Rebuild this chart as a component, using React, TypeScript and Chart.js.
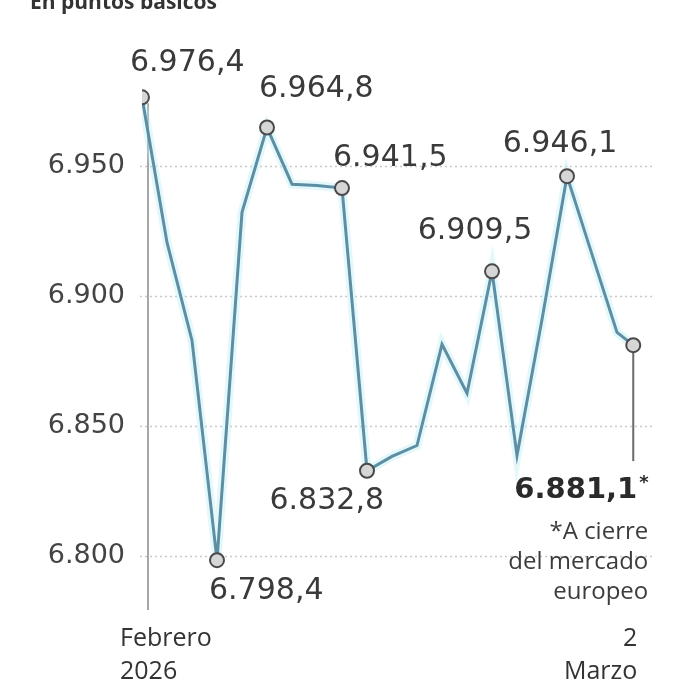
import { useEffect, useRef } from "react";
import { Chart, registerables } from "chart.js";

Chart.register(...registerables);

// ---- data ----
const title = "En puntos básicos";
// trading-session position (last one is a partial session: close of the European market)
const sessions = [0, 1, 2, 3, 4, 5, 6, 7, 8, 9, 10, 11, 12, 13, 14, 15, 16, 17, 18, 19, 19.65];
const values = [
  6976.4, 6920.6, 6882.9, 6798.4, 6932.2, 6964.8, 6943.0, 6942.5, 6941.5, 6832.8,
  6838.3, 6842.5, 6881.4, 6862.6, 6909.5, 6838.7, 6891.0, 6946.1, 6916.0, 6886.0, 6881.1,
];
const labeledIdx = [0, 3, 5, 8, 9, 14, 17, 20];
const yTicks = [6800, 6850, 6900, 6950];
const xStartLabel = ["Febrero", "2026"];
const xEndLabel = ["2", "Marzo"];
const lastNote = "*";
const footnote = ["*A cierre", "del mercado", "europeo"];

// ---- helpers ----
function fmt(v: number, decimals: number): string {
  const fixed = v.toFixed(decimals);
  const [intPart, dec] = fixed.split(".");
  const grouped = intPart.replace(/\B(?=(\d{3})+(?!\d))/g, ".");
  return dec !== undefined ? grouped + "," + dec : grouped;
}

// label placement styles (offsets relative to the point)
const labelStyle: Record<number, { align: CanvasTextAlign; dx: number; dy: number }> = {
  0: { align: "left", dx: -12, dy: -34 },
  5: { align: "left", dx: -8, dy: -38 },
  8: { align: "left", dx: -9, dy: -30 },
  14: { align: "center", dx: -17, dy: -40 },
  17: { align: "center", dx: -7, dy: -32 },
  9: { align: "right", dx: 17, dy: 30 },
  3: { align: "left", dx: -8, dy: 31 },
};

const TEXT = "#3a3a3a";
const LABEL_FONT = '30px "DejaVu Sans"';
const SMALL_FONT = '25px "Open Sans"';

const annotPlugin = {
  id: "annot",
  beforeDatasetsDraw(chart: any) {
    const { ctx, chartArea } = chart;
    const ys = chart.scales.y;
    const xs = chart.scales.x;
    ctx.save();
    // dotted grid lines
    ctx.strokeStyle = "#c9c9c9";
    ctx.lineWidth = 1.5;
    ctx.setLineDash([2, 3]);
    yTicks.forEach((t) => {
      const y = Math.round(ys.getPixelForValue(t)) + 0.5;
      ctx.beginPath();
      ctx.moveTo(chartArea.left - 2, y);
      ctx.lineTo(chartArea.right, y);
      ctx.stroke();
    });
    ctx.setLineDash([]);
    // vertical axis line
    const ax = xs.getPixelForValue(sessions[0]) + 6;
    const top = ys.getPixelForValue(values[0]) + 6;
    ctx.strokeStyle = "#8a8a8a";
    ctx.lineWidth = 1.5;
    ctx.beginPath();
    ctx.moveTo(ax, top);
    ctx.lineTo(ax, chartArea.bottom + 2);
    ctx.stroke();
    // leader line under last point
    const li = values.length - 1;
    const lx = xs.getPixelForValue(sessions[li]);
    const ly = ys.getPixelForValue(values[li]);
    ctx.strokeStyle = "#6a6a6a";
    ctx.lineWidth = 2;
    ctx.beginPath();
    ctx.moveTo(lx, ly);
    ctx.lineTo(lx, ly + 116);
    ctx.stroke();
    ctx.restore();
  },
  afterDatasetsDraw(chart: any) {
    const { ctx, chartArea } = chart;
    const ys = chart.scales.y;
    const xs = chart.scales.x;
    ctx.save();
    ctx.fillStyle = TEXT;
    ctx.textBaseline = "middle";
    // data labels
    labeledIdx.forEach((i) => {
      const st = labelStyle[i];
      if (!st) return;
      const px = xs.getPixelForValue(sessions[i]);
      const py = ys.getPixelForValue(values[i]);
      ctx.font = LABEL_FONT;
      ctx.textAlign = st.align;
      ctx.fillText(fmt(values[i], 1), px + st.dx, py + st.dy);
    });
    // last value
    const li = values.length - 1;
    const lx = xs.getPixelForValue(sessions[li]);
    const ly = ys.getPixelForValue(values[li]);
    ctx.font = 'bold 29px "DejaVu Sans"';
    ctx.textAlign = "right";
    ctx.fillStyle = "#2a2a2a";
    ctx.fillText(fmt(values[li], 1), lx + 4, ly + 145);
    ctx.font = 'bold 18px "DejaVu Sans"';
    ctx.textAlign = "left";
    ctx.fillText(lastNote, lx + 6, ly + 138);
    // footnote
    ctx.font = '24px "Open Sans"';
    ctx.textAlign = "right";
    ctx.fillStyle = "#3c3c3c";
    footnote.forEach((t, k) => {
      ctx.fillText(t, lx + 15, ly + 187 + k * 30);
    });
    // x labels
    ctx.font = SMALL_FONT;
    ctx.fillStyle = "#333";
    const x0 = xs.getPixelForValue(sessions[0]);
    ctx.textAlign = "left";
    xStartLabel.forEach((t, k) => ctx.fillText(t, x0 - 22, chartArea.bottom + 31 + k * 33));
    ctx.textAlign = "right";
    xEndLabel.forEach((t, k) => ctx.fillText(t, lx + 4, chartArea.bottom + 31 + k * 33));
    // clipped title at top
    ctx.font = 'bold 21px "Open Sans"';
    ctx.textAlign = "left";
    ctx.textBaseline = "alphabetic";
    ctx.fillStyle = "#333";
    ctx.fillText(title, 30, 9);
    ctx.restore();
  },
};

export default function App() {
  const ref = useRef<HTMLCanvasElement | null>(null);
  useEffect(() => {
    if (!ref.current) return;
    const points = sessions.map((s, i) => ({ x: s, y: values[i] }));
    const chart = new Chart(ref.current, {
      type: "line",
      data: {
        datasets: [
          {
            data: points,
            borderColor: "#5e8ea4",
            borderWidth: 3,
            tension: 0,
            pointRadius: (c: any) => (labeledIdx.includes(c.dataIndex) ? 7 : 0),
            pointBackgroundColor: "#d6d6d6",
            pointBorderColor: "#4a4a4a",
            pointBorderWidth: 2,
            pointHoverRadius: 0,
          },
          {
            data: points,
            borderColor: "rgba(185, 238, 246, 0.4)",
            borderWidth: 9,
            tension: 0,
            pointRadius: 0,
            pointHoverRadius: 0,
          },
        ],
      },
      options: {
        animation: false,
        responsive: true,
        maintainAspectRatio: false,
        events: [],
        layout: { padding: { top: 88, bottom: 81, left: 0, right: 21 } },
        plugins: { legend: { display: false }, tooltip: { enabled: false } },
        scales: {
          x: {
            type: "linear",
            min: 0,
            max: 20.52,
            display: false,
          },
          y: {
            min: 6780,
            max: 6980,
            afterFit: (s: any) => {
              s.width = 142;
            },
            afterBuildTicks: (s: any) => {
              s.ticks = yTicks.map((v) => ({ value: v }));
            },
            grid: { display: false, drawTicks: false },
            border: { display: false },
            ticks: {
              padding: 17,
              color: "#444",
              font: { family: "DejaVu Sans", size: 27 },
              callback: (v: any) => fmt(Number(v), 0),
            },
          },
        },
      },
      plugins: [annotPlugin],
    });
    return () => chart.destroy();
  }, []);
  return (
    <div style={{ position: "fixed", left: 0, top: 0, width: 676, height: 689, background: "#fff" }}>
      <canvas ref={ref} />
    </div>
  );
}
